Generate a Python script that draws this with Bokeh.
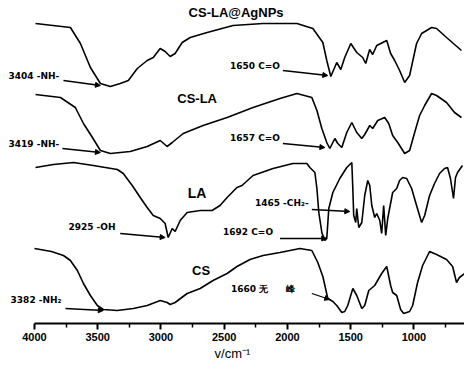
from bokeh.plotting import figure
from bokeh.models import Range1d, ColumnDataSource, Arrow, NormalHead, FixedTicker
from bokeh.core.properties import value
from bokeh.embed import file_html
from bokeh.resources import INLINE

# ---- FTIR spectra (wavenumber cm-1, transmittance a.u. incl. stacking offset) ----
wn_ag = [3992, 3716, 3637, 3558, 3479, 3400, 3322, 3258, 3187, 3109, 3061, 3006, 2967, 2927, 2888,
         2832, 2769, 2635, 2430, 2193, 1925, 1799, 1720, 1689, 1657, 1610, 1578, 1547, 1499, 1452,
         1405, 1381, 1350, 1326, 1294, 1215, 1184, 1152, 1113, 1073, 1034, 979, 939, 860, 821, 742, 624]
t_ag = [300, 296, 280, 256, 240, 237, 240, 243, 255, 263, 266, 275, 272, 267, 270,
        281, 286, 291, 298, 300, 300, 295, 281, 263, 247, 261, 254, 266, 280, 271,
        266, 260, 274, 269, 278, 283, 270, 263, 253, 241, 248, 280, 290, 296, 295, 286, 273]

wn_csla = [3992, 3795, 3677, 3613, 3542, 3479, 3400, 3243, 3109, 3006, 2951, 2911, 2824, 2667, 2477,
           2272, 2059, 1925, 1807, 1767, 1728, 1689, 1665, 1625, 1602, 1570, 1531, 1491, 1452, 1412,
           1389, 1349, 1326, 1286, 1231, 1199, 1168, 1128, 1073, 1034, 994, 955, 915, 860, 821, 742, 679, 624]
t_csla = [229, 226, 216, 200, 186, 173, 170, 172, 177, 183, 177, 181, 190, 198, 206,
          216, 225, 230, 226, 213, 195, 181, 175, 185, 180, 176, 191, 201, 191, 185,
          189, 198, 195, 203, 206, 200, 188, 181, 170, 173, 191, 208, 218, 230, 228, 221, 211, 206]

wn_la = [3992, 3850, 3692, 3535, 3345, 3298, 3227, 3164, 3109, 3061, 3006, 2967, 2943, 2911, 2888,
         2848, 2793, 2690, 2596, 2533, 2477, 2399, 2359, 2272, 2114, 1957, 1846, 1823, 1783, 1767,
         1752, 1728, 1704, 1689, 1673, 1641, 1586, 1531, 1491, 1483, 1476, 1460, 1452, 1436, 1412,
         1389, 1365, 1349, 1333, 1310, 1294, 1270, 1255, 1239, 1223, 1207, 1192, 1168, 1136, 1113,
         1089, 1057, 1018, 979, 939, 915, 876, 837, 797, 758, 734, 711, 694, 687, 671, 655, 616]
t_la = [156, 159, 161, 158, 154, 150, 138, 126, 116, 108, 105, 100, 86, 95, 92,
        103, 111, 113, 113, 118, 126, 136, 138, 148, 155, 160, 160, 156, 151, 135,
        111, 91, 83, 85, 115, 131, 145, 156, 161, 135, 108, 101, 115, 96, 101,
        128, 143, 138, 118, 106, 110, 103, 90, 118, 88, 105, 115, 131, 135, 143,
        146, 145, 135, 118, 101, 108, 128, 140, 150, 155, 156, 145, 131, 125, 146, 151, 158]

wn_cs = [4000, 3866, 3771, 3716, 3661, 3613, 3558, 3503, 3456, 3345, 3219, 3109, 3006, 2951, 2927,
         2888, 2793, 2690, 2588, 2477, 2399, 2296, 2193, 2059, 1901, 1807, 1760, 1720, 1681, 1641,
         1610, 1570, 1547, 1523, 1483, 1452, 1412, 1389, 1357, 1310, 1255, 1215, 1184, 1168, 1136,
         1105, 1081, 1034, 1010, 971, 931, 876, 821, 742, 694, 663, 640, 600]
t_cs = [75, 72, 68, 63, 53, 40, 28, 18, 14, 13, 15, 18, 23, 21, 19,
        21, 30, 35, 43, 50, 57, 64, 68, 71, 75, 73, 61, 47, 25, 22,
        18, 11, 12, 18, 35, 28, 15, 18, 33, 38, 50, 57, 38, 31, 28,
        14, 10, 12, 18, 41, 58, 72, 69, 64, 57, 41, 46, 50]

tick_values = [4000, 3500, 3000, 2500, 2000, 1500, 1000]
minor_values = [3750, 3250, 2750, 2250, 1750, 1250, 750]

sample_names = ["CS-LA@AgNPs", "CS-LA", "LA", "CS"]
note_texts = ["3404 -NH-", "1650 C=O", "3419 -NH-", "1657 C=O", "2925 -OH",
              "1465 -CH\u2082-", "1692 C=O", "3382 -NH\u2082", "1660 \u65e0\u3000\u3000\u5cf0"]

# ---- figure ----
p = figure(width=464, height=363, output_backend="svg", toolbar_location=None,
           x_range=Range1d(4268.8, 600), y_range=Range1d(0, 323),
           min_border_left=0, min_border_right=0, min_border_top=0, min_border_bottom=40,
           y_axis_location=None)
p.outline_line_color = None
p.xgrid.visible = False
p.ygrid.visible = False
p.background_fill_color = "white"
p.border_fill_color = "white"

for wn, t in [(wn_ag, t_ag), (wn_csla, t_csla), (wn_la, t_la), (wn_cs, t_cs)]:
    p.line(wn, t, line_color="black", line_width=1.6)

ax = p.xaxis[0]
ax.ticker = FixedTicker(ticks=tick_values, minor_ticks=minor_values)
ax.bounds = (600, 4000)
ax.axis_line_width = 2
ax.axis_line_color = "black"
ax.major_tick_line_width = 2
ax.major_tick_out = 6
ax.major_tick_in = 0
ax.minor_tick_line_width = 1.5
ax.minor_tick_out = 4
ax.minor_tick_in = 0
ax.major_label_text_font = "Liberation Sans"
ax.major_label_text_font_style = "bold"
ax.major_label_text_font_size = "11px"
ax.major_label_text_color = "black"
ax.major_label_standoff = 3
ax.axis_label = "v/cm\u207b\u00b9"
ax.axis_label_text_font = "Liberation Sans"
ax.axis_label_text_font_style = "normal"
ax.axis_label_text_font_size = "13px"
ax.axis_label_text_color = "black"
ax.axis_label_standoff = 2

# sample names
name_src = ColumnDataSource(dict(x=[2406, 2714, 2714, 2683], y=[311, 225, 131, 53],
                                 text=sample_names, size=["13px", "13px", "14px", "13px"]))
p.text("x", "y", text="text", source=name_src, text_align="center", text_baseline="middle",
       text_font=value("Liberation Sans"), text_font_style="bold", text_font_size="size",
       text_color="black")

# band annotations
note_src = ColumnDataSource(dict(
    x=[4205, 2454, 4205, 2454, 3732, 2257, 2509, 4189, 2446],
    y=[248, 258, 180, 186, 97, 121, 92, 24, 35],
    text=note_texts))
p.text("x", "y", text="text", source=note_src, text_align="left", text_baseline="middle",
       text_font=value("DejaVu Sans"), text_font_style="bold", text_font_size="9px",
       text_color="black")

arrows = [
    (3771, 243, 3479, 238),
    (2036, 253, 1681, 248),
    (3779, 175, 3479, 171),
    (2036, 180, 1704, 176),
    (3322, 90, 2967, 86),
    (1807, 114, 1507, 112),
    (2059, 85, 1689, 85),
    (3755, 15, 3456, 13),
    (1807, 30, 1665, 24),
]
for xs, ys, xe, ye in arrows:
    p.add_layout(Arrow(end=NormalHead(size=5, fill_color="black", line_color="black", line_width=1),
                       x_start=xs, y_start=ys, x_end=xe, y_end=ye,
                       line_color="black", line_width=1.3))

open("out.html", "w").write(file_html(p, INLINE))
